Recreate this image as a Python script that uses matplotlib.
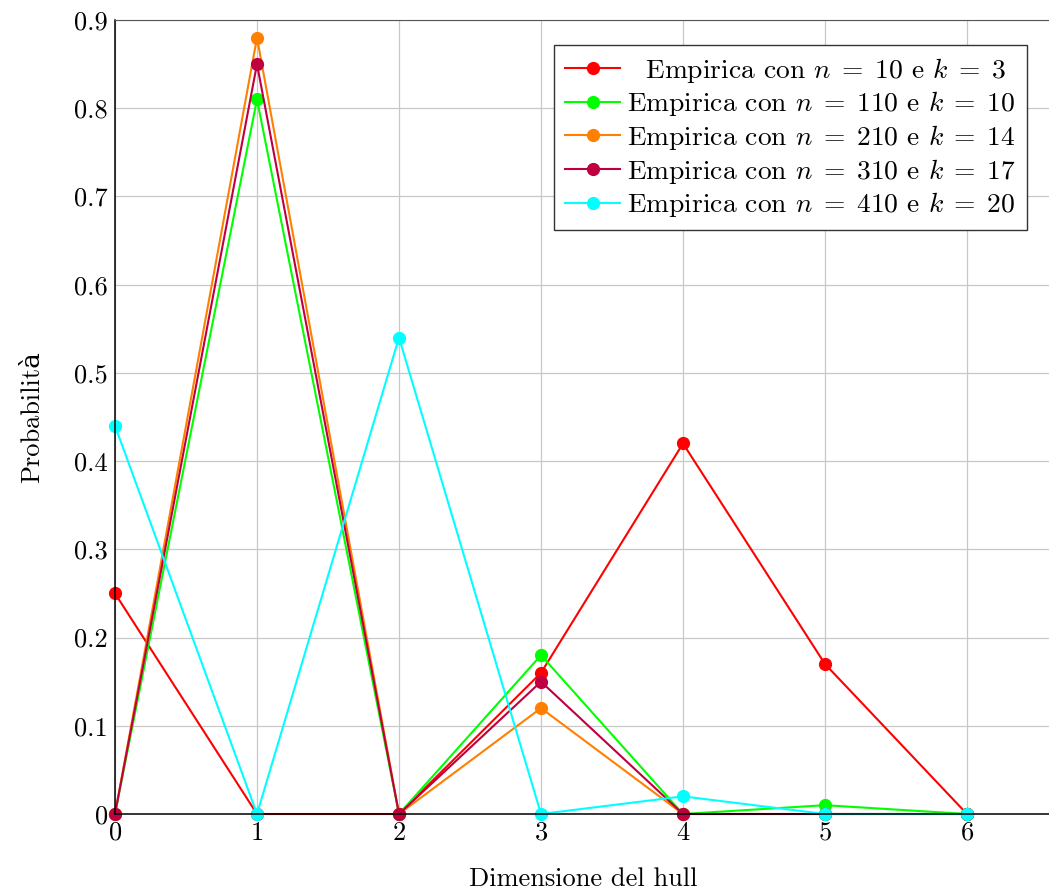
import matplotlib
matplotlib.use('Agg')
import matplotlib.pyplot as plt
import numpy as np

plt.rcParams['font.family'] = ['cmr10', 'DejaVu Serif']
plt.rcParams['mathtext.fontset'] = 'cm'
plt.rcParams['axes.formatter.use_mathtext'] = True

x = [0, 1, 2, 3, 4, 5, 6]   # dimensione del hull
p_n10 = [0.25, 0, 0, 0.16, 0.42, 0.17, 0]
p_n110 = [0, 0.81, 0, 0.18, 0, 0.01, 0]
p_n210 = [0, 0.88, 0, 0.12, 0, 0, 0]
p_n310 = [0, 0.85, 0, 0.15, 0, 0, 0]
p_n410 = [0.44, 0, 0.54, 0, 0.02, 0, 0]

labels = [r'  Empirica con $n \;=\; 10$ e $k \;=\; 3$',
          r'Empirica con $n \;=\; 110$ e $k \;=\; 10$',
          r'Empirica con $n \;=\; 210$ e $k \;=\; 14$',
          r'Empirica con $n \;=\; 310$ e $k \;=\; 17$',
          r'Empirica con $n \;=\; 410$ e $k \;=\; 20$']
colori = [(1, 0, 0), (0, 1, 0), (1, 0.5, 0), (0.75, 0, 0.25), (0, 1, 1)]
serie = [p_n10, p_n110, p_n210, p_n310, p_n410]

fig = plt.figure(figsize=(10.49, 8.94), dpi=100)
ax = fig.add_axes([115/1049, 80/894, 936/1049, 794/894])

for yv, col, lab in zip(serie, colori, labels):
    ax.plot(x, yv, '-o', color=col, lw=1.5, ms=8.5, label=lab, clip_on=False)

ax.set_xlim(0, 936/142)
ax.set_ylim(0, 0.9)
ax.set_xticks(range(7))
ax.set_yticks(np.arange(0, 0.91, 0.1))
ax.set_yticklabels(['0'] + ['%.1f' % v for v in np.arange(0.1, 0.91, 0.1)])
ax.grid(True, color='#c8c8c8', lw=0.9)
ax.set_axisbelow(True)
ax.tick_params(direction='in', labelsize=19, length=0, pad=5)
ax.spines['right'].set_visible(False)
ax.spines['top'].set_color('#555555')
for s in ['left', 'bottom']:
    ax.spines[s].set_linewidth(1.1)

ax.set_xlabel('Dimensione del hull', fontsize=19, labelpad=16)
ax.set_ylabel('Probabilità', fontsize=19, labelpad=22)

leg = ax.legend(loc='upper right', bbox_to_anchor=(1024/1051, 0.969),
                fontsize=19.8, fancybox=False, edgecolor='#333333',
                framealpha=1, handlelength=2.0, handletextpad=0.25,
                borderpad=0.4, labelspacing=0.17, borderaxespad=0)
leg.get_frame().set_linewidth(1.0)

fig.savefig('out.png', dpi=100)
